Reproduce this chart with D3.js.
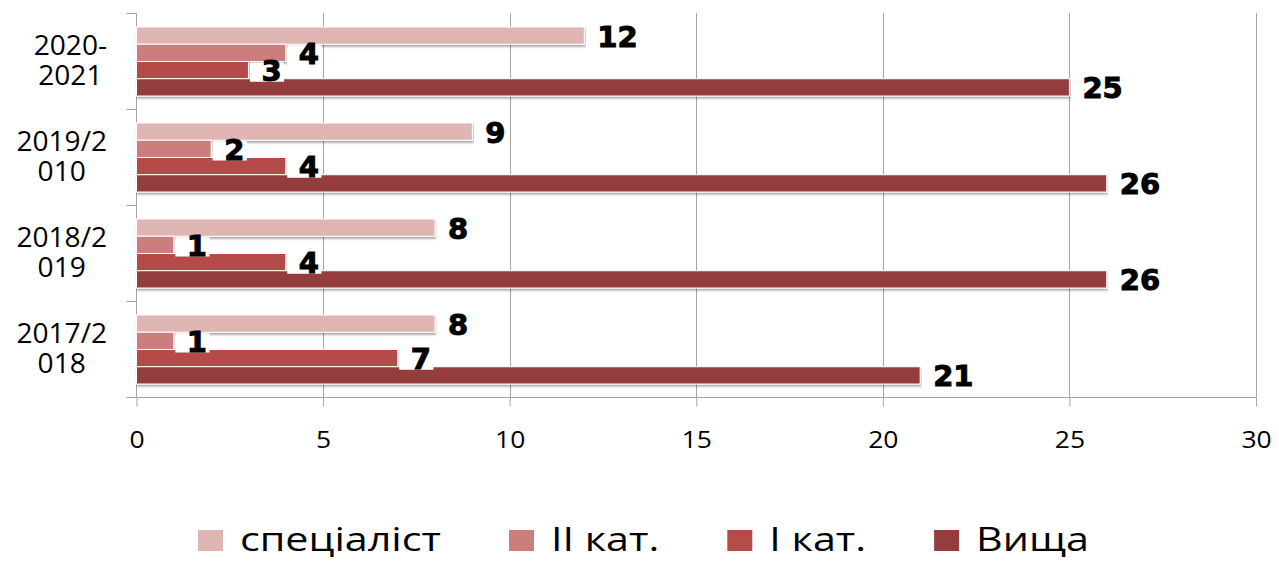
<!DOCTYPE html>
<html>
<head>
<meta charset="utf-8">
<script src="https://cdn.jsdelivr.net/npm/d3@7"></script>
<style>
  body { margin: 0; background: #fff; }
  svg { display: block; }
</style>
</head>
<body>
<div id="viz"></div>
<script>
// дані з діаграми
var categories = ["2020-2021", "2019/2010", "2018/2019", "2017/2018"];
var categoryLines = [["2020-", "2021"], ["2019/2", "010"], ["2018/2", "019"], ["2017/2", "018"]];
var seriesNames = ["спеціаліст", "II кат.", "I кат.", "Вища"];
var specialist = [12, 9, 8, 8];
var secondCat = [4, 2, 1, 1];
var firstCat = [3, 4, 4, 7];
var highest = [25, 26, 26, 21];
var xTicks = [0, 5, 10, 15, 20, 25, 30];

var seriesValues = [specialist, secondCat, firstCat, highest];
var colors = ["#dfb5b4", "#cc7e7c", "#b54c4a", "#953c3c"];

var W = 1279, H = 561;
var plotLeft = 136.5, plotRight = 1256, plotTop = 13, plotBottom = 397;

var svg = d3.select("#viz").append("svg")
    .attr("width", W)
    .attr("height", H);

var defs = svg.append("defs");
var f = defs.append("filter").attr("id", "shadow")
    .attr("x", "-5%").attr("y", "-30%").attr("width", "110%").attr("height", "170%");
f.append("feDropShadow")
    .attr("dx", 1).attr("dy", 2)
    .attr("stdDeviation", 1.2)
    .attr("flood-color", "#000")
    .attr("flood-opacity", 0.35);

var x = d3.scaleLinear().domain([0, 30]).range([plotLeft, plotRight]);

var y = d3.scaleBand().domain(categories).range([plotTop, plotBottom]).padding(0);
var yInner = d3.scaleBand().domain(seriesNames).range([14, 83]).padding(0);

// сітка
svg.append("g").selectAll("line")
    .data(xTicks.slice(1))
    .enter().append("line")
    .attr("x1", function(d) { return Math.round(x(d)) + 0.5; })
    .attr("x2", function(d) { return Math.round(x(d)) + 0.5; })
    .attr("y1", plotTop).attr("y2", plotBottom)
    .attr("stroke", "#a6a6a6").attr("stroke-width", 1);

// вісь X
var xAxis = d3.axisBottom(x).tickValues(xTicks).tickSize(9).tickPadding(25);
var gx = svg.append("g")
    .attr("transform", "translate(0," + (plotBottom + 0.5) + ")")
    .call(xAxis);
gx.select(".domain").remove();
gx.selectAll(".tick line").attr("stroke", "#a6a6a6");
gx.selectAll(".tick text")
    .attr("font-family", "Open Sans")
    .attr("font-size", "23px")
    .attr("fill", "#000")
    .each(function() {
        var w = this.getComputedTextLength() * 1.15;
        d3.select(this).attr("textLength", w).attr("lengthAdjust", "spacingAndGlyphs");
    });
gx.append("line")
    .attr("x1", plotLeft - 10).attr("x2", plotRight)
    .attr("y1", 0).attr("y2", 0)
    .attr("stroke", "#a6a6a6");

// вісь Y
svg.append("line")
    .attr("x1", plotLeft).attr("x2", plotLeft)
    .attr("y1", plotTop).attr("y2", plotBottom)
    .attr("stroke", "#a6a6a6");
var boundaries = categories.map(function(c) { return y(c); }).concat([plotBottom]);
svg.append("g").selectAll("line")
    .data(boundaries)
    .enter().append("line")
    .attr("x1", plotLeft - 10).attr("x2", plotLeft)
    .attr("y1", function(d) { return Math.round(d) + 0.5; })
    .attr("y2", function(d) { return Math.round(d) + 0.5; })
    .attr("stroke", "#a6a6a6");

// підписи категорій
var catG = svg.append("g");
categories.forEach(function(c, i) {
    var g = catG.append("g");
    var cy = y(c) + y.bandwidth() / 2;
    var lines = categoryLines[i];
    var texts = lines.map(function(l, j) {
        return g.append("text")
            .attr("y", cy - 6 + j * 30)
            .attr("text-anchor", "middle")
            .attr("font-family", "Open Sans")
            .attr("font-size", "27px")
            .attr("fill", "#000")
            .text(l);
    });
    var maxW = d3.max(texts, function(t) { return t.node().getComputedTextLength(); }) * 1.04;
    texts.forEach(function(t) {
        var w = t.node().getComputedTextLength() * 1.04;
        t.attr("x", 107 - maxW / 2)
            .attr("textLength", w).attr("lengthAdjust", "spacingAndGlyphs");
    });
});

// стовпці
var bars = svg.append("g");
seriesNames.forEach(function(s, si) {
    bars.selectAll(".bar-" + si)
        .data(seriesValues[si])
        .enter().append("rect")
        .attr("class", "bar-" + si)
        .attr("x", plotLeft)
        .attr("y", function(d, i) { return y(categories[i]) + yInner(s); })
        .attr("width", function(d) { return x(d) - plotLeft; })
        .attr("height", yInner.bandwidth())
        .attr("fill", colors[si])
        .attr("stroke", "#fff")
        .attr("stroke-width", 1)
        .attr("filter", "url(#shadow)");
});

// підписи значень
var labels = svg.append("g");
seriesNames.forEach(function(s, si) {
    seriesValues[si].forEach(function(d, i) {
        var by = y(categories[i]) + yInner(s);
        var cy = by + yInner.bandwidth() / 2;
        var t = labels.append("text")
            .attr("x", x(d) + 13)
            .attr("y", cy + 11)
            .attr("font-family", "DejaVu Sans")
            .attr("font-weight", "bold")
            .attr("font-size", "29px")
            .attr("fill", "#000")
            .attr("stroke", "#000")
            .attr("stroke-width", 1)
            .text(d);
        var w = t.node().getComputedTextLength();
        labels.insert("rect", function() { return t.node(); })
            .attr("x", x(d) + 1.5)
            .attr("y", by + 1)
            .attr("width", w + 14)
            .attr("height", yInner.bandwidth() + 2)
            .attr("fill", "#fff");
    });
});

// легенда
var legend = svg.append("g");
var lx = 198;
seriesNames.forEach(function(s, si) {
    legend.append("rect")
        .attr("x", lx).attr("y", 530)
        .attr("width", 25).attr("height", 21)
        .attr("fill", colors[si]);
    var t = legend.append("text")
        .attr("x", lx + 42)
        .attr("y", 551)
        .attr("font-family", "Open Sans")
        .attr("font-size", "32px")
        .attr("fill", "#000")
        .text(s);
    var w = t.node().getComputedTextLength() * 1.29;
    t.attr("textLength", w).attr("lengthAdjust", "spacingAndGlyphs");
    lx += 42 + w + 68;
});
</script>
</body>
</html>
